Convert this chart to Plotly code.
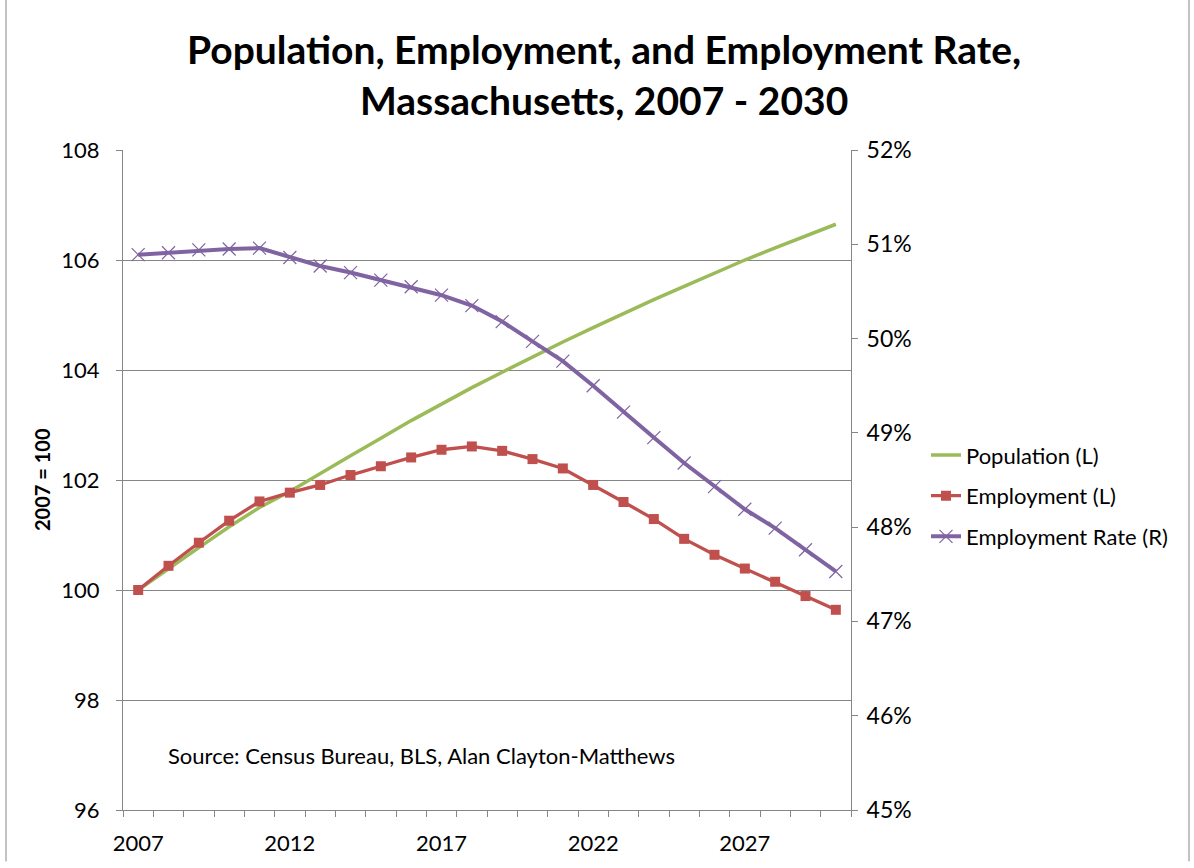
import plotly.graph_objects as go

years = list(range(2007, 2031))
population = [100.00, 100.39, 100.77, 101.15, 101.50, 101.79, 102.12, 102.44, 102.76, 103.08,
              103.38, 103.68, 103.96, 104.24, 104.51, 104.77, 105.03, 105.28, 105.52, 105.76,
              106.00, 106.22, 106.44, 106.65]
employment = [100.00, 100.44, 100.86, 101.26, 101.61, 101.77, 101.91, 102.09, 102.25, 102.41,
              102.55, 102.61, 102.53, 102.38, 102.21, 101.91, 101.60, 101.29, 100.93, 100.64,
              100.39, 100.15, 99.89, 99.64]
emp_rate = [0.5089, 0.5091, 0.5094, 0.5095, 0.5096, 0.5086, 0.5077, 0.5070, 0.5062, 0.5055,
            0.5046, 0.5035, 0.5018, 0.4997, 0.4976, 0.4950, 0.4922, 0.4895, 0.4868, 0.4843,
            0.4819, 0.4799, 0.4776, 0.4753]
x_tick_labels = ["2007", "2012", "2017", "2022", "2027"]
x_tick_vals = [2007, 2012, 2017, 2022, 2027]

GREEN = "#9BBB59"
RED = "#C0504D"
PURPLE = "#8064A2"
GRID = "#868686"
FONT = "Lato"

W, H = 1194, 868
L, R, T, B = 123, 343, 150, 50
PW, PH = W - L - R, H - T - B

def px_x(p):
    return (p - L) / PW

def px_y(p):
    return (H - B - p) / PH

fig = go.Figure()
fig.add_trace(go.Scatter(x=years, y=population, name="Population (L)", mode="lines",
                         line=dict(color=GREEN, width=3.5), legendgroup="a"))
fig.add_trace(go.Scatter(x=years, y=employment, name="Employment (L)", mode="lines+markers",
                         line=dict(color=RED, width=3.3),
                         marker=dict(symbol="square", size=10, color=RED), legendgroup="b"))
fig.add_trace(go.Scatter(x=years, y=emp_rate, name="Employment Rate (R)", mode="lines+markers",
                         yaxis="y2", line=dict(color=PURPLE, width=4),
                         marker=dict(symbol="x-thin-open", size=13, color=PURPLE,
                                     line=dict(color=PURPLE, width=1.2)), legendgroup="c"))

fig.update_layout(
    width=W, height=H, autosize=False,
    margin=dict(l=L, r=R, t=T, b=B),
    paper_bgcolor="white", plot_bgcolor="white",
    font=dict(family=FONT, size=20, color="black"),
    showlegend=True,
    legend=dict(x=px_x(926), y=px_y(500), xanchor="left", yanchor="middle",
                font=dict(size=22, family=FONT), traceorder="grouped",
                tracegroupgap=9, bgcolor="rgba(0,0,0,0)"),
    xaxis=dict(range=[2006.5, 2030.5], tickvals=x_tick_vals, ticktext=x_tick_labels,
               ticks="", showgrid=False, zeroline=False,
               showline=True, linecolor=GRID, linewidth=1,
               tickfont=dict(size=22, family=FONT), ticklabelstandoff=14,
               minor=dict(ticks="outside", tick0=2006.5, dtick=1, ticklen=6,
                          tickcolor=GRID, showgrid=False)),
    yaxis=dict(range=[96, 108], dtick=2, ticks="outside", ticklen=6, tickcolor=GRID,
               showline=True, linecolor=GRID, linewidth=1,
               showgrid=True, gridcolor=GRID, gridwidth=1, zeroline=False,
               tickfont=dict(size=22, family=FONT), ticklabelstandoff=12),
    yaxis2=dict(range=[0.45, 0.52], dtick=0.01, tickformat=".0%", overlaying="y", side="right",
                ticks="outside", ticklen=6, tickcolor=GRID,
                showline=True, linecolor=GRID, linewidth=1,
                showgrid=False, zeroline=False,
                tickfont=dict(size=23, family=FONT), ticklabelstandoff=4),
)

fig.add_annotation(text="<b>Population, Employment, and Employment Rate,<br>Massachusetts, 2007 - 2030</b>",
                   xref="paper", yref="paper", x=px_x(604), y=px_y(74),
                   xanchor="center", yanchor="middle", showarrow=False,
                   font=dict(size=39, family=FONT, color="black"))
fig.add_annotation(text="<b>2007 = 100</b>", textangle=-90,
                   xref="paper", yref="paper", x=px_x(42), y=px_y(484),
                   xanchor="center", yanchor="middle", showarrow=False,
                   font=dict(size=20, family=FONT, color="black"))
fig.add_annotation(text="Source: Census Bureau, BLS, Alan Clayton-Matthews",
                   xref="paper", yref="paper", x=px_x(166), y=px_y(763),
                   xanchor="left", yanchor="middle", showarrow=False,
                   font=dict(size=22, family=FONT, color="black"))

for xp in (6, 1189):
    fig.add_shape(type="line", xref="paper", yref="paper",
                  x0=px_x(xp), x1=px_x(xp), y0=px_y(H + 2), y1=px_y(-2),
                  line=dict(color=GRID, width=1))

fig.write_html("out.html", config={"displayModeBar": False},
               post_script="document.body.style.margin='0px';")
